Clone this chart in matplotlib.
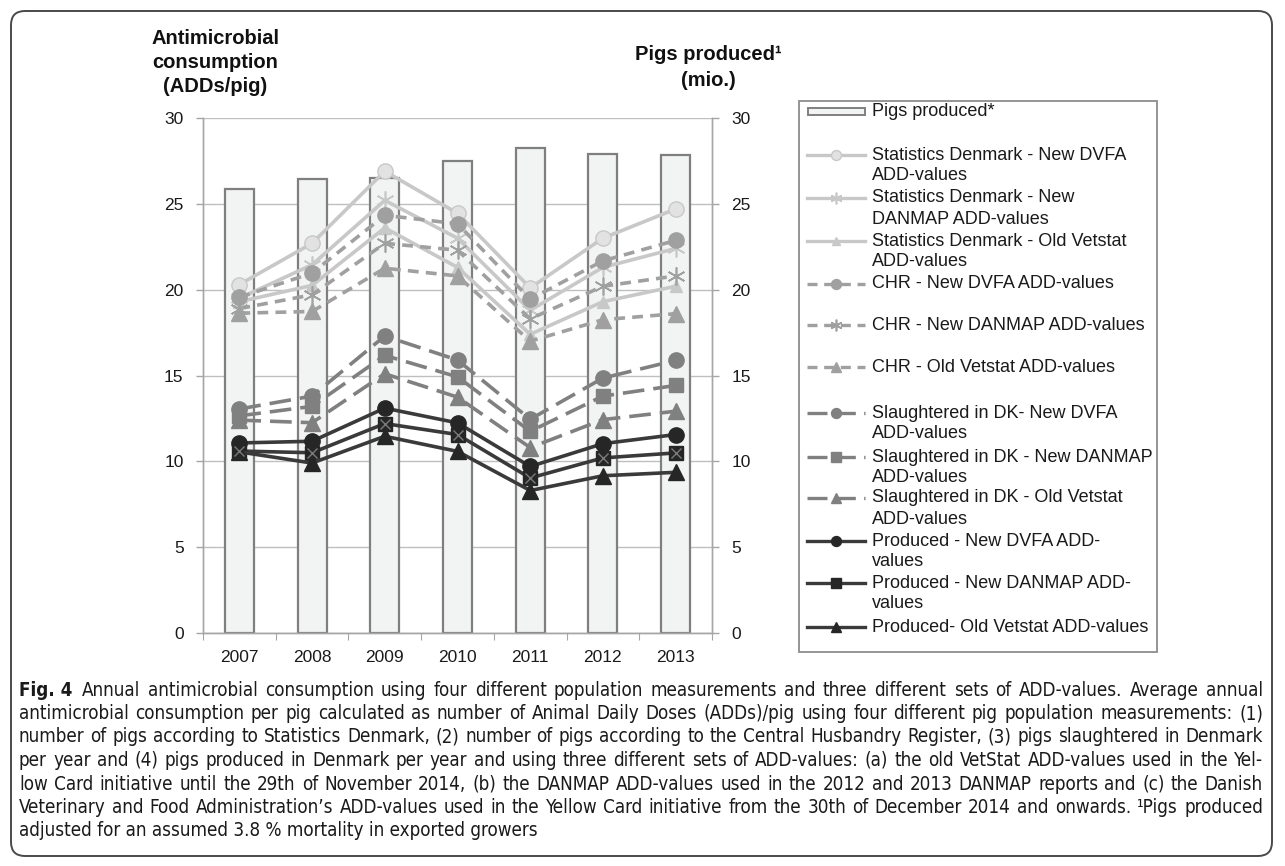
import numpy as np
import matplotlib
matplotlib.use('Agg')
import matplotlib.pyplot as plt
from matplotlib import font_manager as fm
from matplotlib.patches import FancyBboxPatch, Rectangle

# ---- data ----
years = ['2007', '2008', '2009', '2010', '2011', '2012', '2013']
pigs_produced = [25.88, 26.43, 26.50, 27.47, 28.25, 27.90, 27.86]

stat_dvfa = [20.3, 22.7, 26.9, 24.45, 20.1, 23.0, 24.7]
stat_danmap = [19.5, 21.45, 25.2, 23.0, 18.8, 21.3, 22.4]
stat_old = [19.3, 20.25, 23.6, 21.3, 17.4, 19.3, 20.2]

chr_dvfa = [19.55, 20.97, 24.33, 23.84, 19.45, 21.68, 22.87]
chr_danmap = [18.9, 19.7, 22.7, 22.3, 18.3, 20.2, 20.8]
chr_old = [18.63, 18.73, 21.25, 20.8, 17.0, 18.25, 18.6]

slau_dvfa = [13.05, 13.8, 17.3, 15.9, 12.45, 14.85, 15.88]
slau_danmap = [12.65, 13.2, 16.17, 14.92, 11.75, 13.8, 14.42]
slau_old = [12.4, 12.25, 15.1, 13.74, 10.8, 12.43, 12.92]

prod_dvfa = [11.07, 11.17, 13.1, 12.24, 9.7, 11.03, 11.56]
prod_danmap = [10.6, 10.5, 12.2, 11.56, 9.03, 10.2, 10.49]
prod_old = [10.55, 9.9, 11.46, 10.58, 8.3, 9.16, 9.36]

labels = ['Statistics Denmark - New DVFA\nADD-values',
          'Statistics Denmark - New\nDANMAP ADD-values',
          'Statistics Denmark - Old Vetstat\nADD-values',
          'CHR - New DVFA ADD-values',
          'CHR - New DANMAP ADD-values',
          'CHR - Old Vetstat ADD-values',
          'Slaughtered in DK- New DVFA\nADD-values',
          'Slaughtered in DK - New DANMAP\nADD-values',
          'Slaughtered in DK - Old Vetstat\nADD-values',
          'Produced - New DVFA ADD-\nvalues',
          'Produced - New DANMAP ADD-\nvalues',
          'Produced- Old Vetstat ADD-values']

caption = [
    'Annual antimicrobial consumption using four different population measurements and three different sets of ADD-values. Average annual',
    'antimicrobial consumption per pig calculated as number of Animal Daily Doses (ADDs)/pig using four different pig population measurements: (1)',
    'number of pigs according to Statistics Denmark, (2) number of pigs according to the Central Husbandry Register, (3) pigs slaughtered in Denmark',
    'per year and (4) pigs produced in Denmark per year and using three different sets of ADD-values: (a) the old VetStat ADD-values used in the Yel-',
    'low Card initiative until the 29th of November 2014, (b) the DANMAP ADD-values used in the 2012 and 2013 DANMAP reports and (c) the Danish',
    'Veterinary and Food Administration\u2019s ADD-values used in the Yellow Card initiative from the 30th of December 2014 and onwards. \u00b9Pigs produced',
    'adjusted for an assumed 3.8 % mortality in exported growers']

# ---- styles ----
LIGHT, MID, DARKG, DARK = '#c8c8c8', '#a0a0a0', '#808080', '#3a3a3a'
STAR = (6, 2, 0)
series = [
    (stat_dvfa, dict(color=LIGHT, ls='-', marker='o', ms=11, mfc='#e2e2e2', mec=LIGHT)),
    (stat_danmap, dict(color=LIGHT, ls='-', marker=STAR, ms=13, mfc=LIGHT, mec=LIGHT, mew=1.2)),
    (stat_old, dict(color=LIGHT, ls='-', marker='^', ms=9, mfc=LIGHT, mec=LIGHT)),
    (chr_dvfa, dict(color=MID, ls=(0, (3, 2)), marker='o', ms=11, mfc=MID, mec=MID)),
    (chr_danmap, dict(color=MID, ls=(0, (3, 2)), marker=STAR, ms=13, mfc=MID, mec=MID, mew=1.2)),
    (chr_old, dict(color=MID, ls=(0, (3, 2)), marker='^', ms=11, mfc=MID, mec=MID)),
    (slau_dvfa, dict(color=DARKG, ls=(0, (6, 2.5)), marker='o', ms=11, mfc=DARKG, mec=DARKG)),
    (slau_danmap, dict(color=DARKG, ls=(0, (6, 2.5)), marker='s', ms=10, mfc=DARKG, mec=DARKG)),
    (slau_old, dict(color=DARKG, ls=(0, (6, 2.5)), marker='^', ms=11, mfc=DARKG, mec=DARKG)),
    (prod_dvfa, dict(color=DARK, ls='-', marker='o', ms=11, mfc='#262626', mec='#262626')),
    (prod_danmap, dict(color=DARK, ls='-', marker='s', ms=10, mfc='#262626', mec='#262626')),
    (prod_old, dict(color=DARK, ls='-', marker='^', ms=11, mfc='#262626', mec='#262626')),
]

W, H = 1285, 866
plt.rcParams['font.family'] = ['Liberation Sans', 'DejaVu Sans']
fig = plt.figure(figsize=(W / 100, H / 100), dpi=100)


def px_axes(x0, y0, x1, y1):
    return fig.add_axes([x0 / W, 1 - y1 / H, (x1 - x0) / W, (y1 - y0) / H])


x = np.arange(len(years))
ax = px_axes(203, 118, 712, 633)
ax.bar(x, pigs_produced, width=0.4, color='#f2f4f4', edgecolor='#7f7f7f', linewidth=1.6, zorder=2)
ax.set_xlim(-0.5, len(years) - 0.5)
ax.set_ylim(0, 30)
ax.set_axisbelow(True)
ax.grid(axis='y', color='#bfbfbf', lw=1)

ax2 = ax.twinx()
ax2.set_ylim(0, 30)
for i, (vals, st) in enumerate(series):
    ax2.plot(x, vals, lw=2.6, zorder=3 + i, **st)
ax2.plot(x, prod_danmap, ls='none', marker='x', ms=7, mec='#7a7a7a', mew=1, zorder=20)

ax.yaxis.tick_right()
ax2.yaxis.tick_left()
for a in (ax, ax2):
    a.set_yticks(range(0, 31, 5))
    a.tick_params(axis='y', direction='out', length=5, width=1, color='#a6a6a6',
                  labelsize=12.5, labelcolor='#1a1a1a', pad=9)
    for s in a.spines.values():
        s.set_color('#a6a6a6')
        s.set_linewidth(1)
    a.spines['top'].set_visible(False)

ax.set_xticks(np.arange(-0.5, len(years)), minor=False)
ax.set_xticklabels([])
ax.set_xticks(x, minor=True)
ax.set_xticklabels(years, minor=True)
ax.tick_params(axis='x', which='major', direction='out', length=5, color='#a6a6a6')
ax.tick_params(axis='x', which='minor', length=0, labelsize=12.5, labelcolor='#1a1a1a', pad=12)

# ---- overlay in pixel units: frame, titles, legend, caption ----
ov = fig.add_axes([0, 0, 1, 1])
ov.set_xlim(0, W)
ov.set_ylim(H, 0)
ov.axis('off')
ov.add_patch(FancyBboxPatch((11, 11), 1261, 845, boxstyle='round,pad=0,rounding_size=14',
                            fill=False, ec='#4a4a4a', lw=1.4))

for i, t in enumerate(['Antimicrobial', 'consumption', '(ADDs/pig)']):
    ov.text(215, 38 + 24.5 * i, t, ha='center', va='center',
            fontsize=14.5, weight='bold', color='#111111')
for i, t in enumerate(['Pigs produced\u00b9', '(mio.)']):
    ov.text(708, 55 + 25 * i, t, ha='center', va='center',
            fontsize=14.5, weight='bold', color='#111111')

ov.add_patch(Rectangle((799, 101), 358, 551, fill=False, ec='#8c8c8c', lw=1.3))
ov.add_patch(Rectangle((808, 108), 57, 7, fc='#f2f4f4', ec='#7f7f7f', lw=1.4))
ov.text(872, 112, 'Pigs produced*', va='center', fontsize=13, color='#1a1a1a')
rows = [155, 198, 241, 284, 325, 367, 413, 457, 498, 541, 583, 627]
for (vals, st), lab, y in zip(series, labels, rows):
    st = dict(st)
    ls = st.pop('ls')
    col = st.pop('color')
    ov.plot([807, 865], [y, y], color=col, ls=ls, lw=2.4)
    st['ms'] = st['ms'] * 0.65
    ov.plot([836], [y], ls='none', **st)
    for k, part in enumerate(lab.split('\n')):
        ov.text(872, y + 21 * k, part, va='center', fontsize=13, color='#1a1a1a')

# caption font: a condensed sans if one is installed
reg_fp, bold_fp = None, None
for f in fm.fontManager.ttflist:
    nm = f.name
    narrow = ('Narrow' in nm or 'Condensed' in nm or
              str(f.stretch) in ('condensed', 'semi-condensed', 'extra-condensed', '75', '87'))
    if not narrow or 'Mono' in nm or 'Serif' in nm or f.style != 'normal':
        continue
    wt = f.weight if isinstance(f.weight, int) else (700 if 'bold' in str(f.weight) else 400)
    if wt >= 600 and bold_fp is None:
        bold_fp = f.fname
    elif wt < 600 and reg_fp is None:
        reg_fp = f.fname
if reg_fp:
    REG = dict(fontproperties=fm.FontProperties(fname=reg_fp))
    BOLD = dict(fontproperties=fm.FontProperties(fname=bold_fp or reg_fp))
else:
    REG = dict(family=['Roboto', 'Liberation Sans'])
    BOLD = dict(family=['Roboto', 'Liberation Sans'], weight='bold')

x0, x1 = 19, 1263
fig.canvas.draw()
rend = fig.canvas.get_renderer()


def put(xx, yy, s, size, bold=False):
    kw = dict(BOLD if bold else REG)
    t = ov.text(xx, yy, s, va='center', color='#1a1a1a', **kw)
    t.set_fontsize(size)
    return t


def text_w(s, size, bold=False):
    t = put(0, 0, s, size, bold)
    w = t.get_window_extent(rend).width
    t.remove()
    return w


fig_w = text_w('Fig. 4', 10, True) + 9
widest = max(text_w(l, 10) + (fig_w if i == 0 else 0) for i, l in enumerate(caption))
csize = min(16.5, 10 * 1238 / widest)
bold_w = text_w('Fig. 4', csize, True)
space_w = text_w('a b', csize) - text_w('ab', csize)

for i, line in enumerate(caption):
    y = 690 + 23.5 * i
    start = x0
    if i == 0:
        put(x0, y, 'Fig. 4', csize, True)
        start = x0 + bold_w + 1.8 * space_w
    if i == len(caption) - 1:
        put(start, y, line, csize)
        continue
    words = line.split(' ')
    ws = [text_w(w, csize) for w in words]
    gap = (x1 - start - sum(ws)) / (len(words) - 1)
    cx = start
    for w, wd in zip(words, ws):
        put(cx, y, w, csize)
        cx += wd + gap

fig.savefig('out.png', dpi=100)
